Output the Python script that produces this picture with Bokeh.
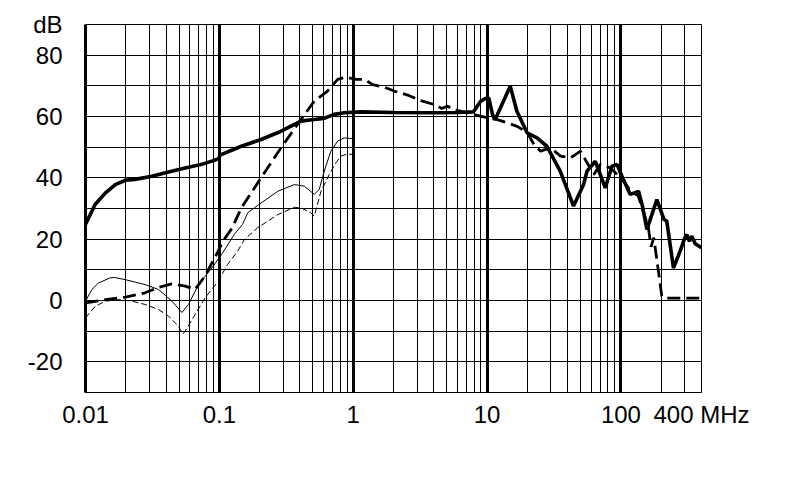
from bokeh.plotting import figure
from bokeh.models import FixedTicker, Grid, Range1d
from bokeh.embed import file_html
from bokeh.resources import INLINE

# ---- data (frequency in MHz, level in dB) ----
thick_solid_f = [0.01, 0.0118, 0.0141, 0.0167, 0.0198, 0.0235, 0.0313, 0.0417, 0.0555, 0.074,
                 0.09, 0.099, 0.101, 0.146, 0.205, 0.289, 0.407, 0.51, 0.607, 0.72, 0.855, 1.14,
                 2, 4, 6, 7.9, 8.96, 9.6, 10.3, 11.0, 11.5, 14.9, 16.7, 19.9, 23.6, 28, 35.2,
                 44.3, 52.6, 55.8, 64.4, 76.4, 85.7, 93.4, 101.8, 117.4, 135.5, 145, 156.4,
                 185.7, 210, 220, 247, 277, 300, 311, 325, 339, 359, 400]
thick_solid_db = [24.8, 31.3, 35.1, 37.8, 39.2, 39.5, 40.5, 41.9, 43.2, 44.4,
                  45.6, 46.2, 47.4, 50.3, 52.5, 55.2, 58.5, 59.0, 59.4, 60.7, 61.2, 61.5,
                  61.3, 61.2, 61.3, 61.5, 65.0, 65.8, 66.1, 60.5, 59.0, 69.9, 61.7, 54.7, 53.0, 50.3, 42.2,
                  30.8, 37.8, 42.2, 45.4, 36.7, 43.8, 44.4, 40.5, 34.6, 35.6, 30.7, 23.2,
                  32.9, 26.4, 25.9, 10.6, 16.1, 20.4, 21.5, 19.3, 21.0, 18.5, 17.2]

thick_dash_f = [0.01, 0.0141, 0.0198, 0.0279, 0.035, 0.0442, 0.0555, 0.0659, 0.078, 0.098,
                0.106, 0.124, 0.146, 0.205, 0.289, 0.407, 0.512, 0.643, 0.765, 0.883, 1.05,
                1.21, 1.4, 1.7, 2.02, 2.55, 3.2, 4.03, 4.6, 5.07, 5.5, 6.0, 7.9, 10, 11.9,
                14.2, 16.8, 20, 22.4, 25.1, 29.8, 35.4, 42, 49.9, 55.9, 62.7, 70.3, 83.5,
                100, 117, 135, 160, 168, 176, 190, 202, 210, 400]
thick_dash_db = [-0.8, 0.3, 1.1, 2.5, 4.3, 5.4, 4.7, 3.6, 7.9, 16.1,
                 19.3, 23.5, 30.2, 40.0, 49.8, 59.0, 65.0, 68.3, 72.1, 72.8, 72.1,
                 72.1, 70.4, 69.6, 68.3, 67.0, 65.2, 63.9, 62.6, 63.4, 62.4, 62.0, 60.7, 59.6, 59.0,
                 57.9, 56.8, 54.7, 50.9, 48.7, 49.8, 47.1, 46.5, 48.7, 44.9, 41.1, 44.4, 43.2,
                 40.0, 36.0, 34.0, 24.0, 17.5, 20.5, 10.0, 1.5, 0.8, 0.8]

thin_solid_f = [0.01, 0.01117, 0.0125, 0.0153, 0.0165, 0.0198, 0.0279, 0.0351, 0.0442, 0.0525,
                0.0588, 0.0698, 0.0878, 0.104, 0.129, 0.149, 0.163, 0.205, 0.273, 0.363, 0.431,
                0.512, 0.557, 0.608, 0.681, 0.765, 0.857, 0.99]
thin_solid_db = [-0.2, 3.6, 5.7, 7.4, 7.5, 6.8, 5.2, 3.6, -0.2, -3.9,
                 -1.3, 5.2, 10.6, 15.0, 21.5, 24.8, 28.6, 31.8, 35.6, 37.8, 37.3,
                 34.6, 36.2, 42.2, 48.7, 52.0, 53.0, 52.8]

thin_dash_f = [0.01, 0.0118, 0.0141, 0.0177, 0.0222, 0.0279, 0.035, 0.0417, 0.0495, 0.0533,
               0.0555, 0.0659, 0.078, 0.098, 0.115, 0.137, 0.154, 0.193, 0.273, 0.363, 0.407,
               0.483, 0.512, 0.574, 0.663, 0.743, 0.81, 0.908, 0.99]
thin_dash_db = [-5.7, -1.9, -0.2, 0.3, -0.2, -1.3, -2.9, -5.1, -8.4, -11.0,
                -10.0, -4.6, 0.8, 6.3, 11.7, 16.1, 19.9, 23.7, 28.0, 30.4, 30.2,
                28.6, 27.5, 35.6, 41.1, 44.9, 47.1, 47.8, 47.6]

x_tick_vals = [0.01, 0.1, 1, 10, 100, 400]
x_tick_labels = ["0.01", "0.1", "1", "10", "100", "400 MHz"]
y_tick_vals = [-20, 0, 20, 40, 60, 80, 90]
y_tick_labels = ["-20", "0", "20", "40", "60", "80", "dB"]

x_minor_grid = [m * 10.0 ** k for k in range(-2, 2) for m in range(2, 10)] + [200, 300]
x_major_grid = [0.1, 1, 10, 100]
y_grid = list(range(-20, 90, 10))

FONT = "Liberation Sans"

p = figure(width=780, height=470, x_axis_type="log",
           x_range=Range1d(0.01, 400), y_range=Range1d(-30, 90),
           output_backend="svg", toolbar_location=None,
           min_border_left=85, min_border_right=79, min_border_top=24, min_border_bottom=78)

p.background_fill_color = "white"
p.border_fill_color = "white"
p.outline_line_color = "black"
p.outline_line_width = 1

# grids
p.xgrid.ticker = FixedTicker(ticks=x_minor_grid)
p.xgrid.grid_line_color = "black"
p.xgrid.grid_line_width = 1
p.ygrid.ticker = FixedTicker(ticks=y_grid)
p.ygrid.grid_line_color = "black"
p.ygrid.grid_line_width = 1
p.add_layout(Grid(dimension=0, ticker=FixedTicker(ticks=x_major_grid),
                  grid_line_color="black", grid_line_width=3))

# axes
p.xaxis.ticker = FixedTicker(ticks=x_tick_vals)
p.xaxis.major_label_overrides = dict(zip(x_tick_vals, x_tick_labels))
p.yaxis.ticker = FixedTicker(ticks=y_tick_vals)
p.yaxis.major_label_overrides = dict(zip(y_tick_vals, y_tick_labels))
for ax in (p.xaxis, p.yaxis):
    ax.major_tick_line_color = None
    ax.minor_tick_line_color = None
    ax.major_tick_out = 0
    ax.major_tick_in = 0
    ax.major_label_text_font = FONT
    ax.major_label_text_font_size = "24px"
    ax.major_label_text_color = "black"
    ax.axis_line_color = "black"
p.xaxis.axis_line_width = 1
p.yaxis.axis_line_width = 3
p.xaxis.major_label_standoff = 8
p.yaxis.major_label_standoff = 23

# curves
p.line(thin_dash_f, thin_dash_db, line_color="black", line_width=1, line_dash="6 3")
p.line(thin_solid_f, thin_solid_db, line_color="black", line_width=1)
p.line(thick_dash_f, thick_dash_db, line_color="black", line_width=2.8, line_dash="13 6")
p.line(thick_solid_f, thick_solid_db, line_color="black", line_width=3.6)

open("out.html", "w").write(file_html(p, INLINE))
